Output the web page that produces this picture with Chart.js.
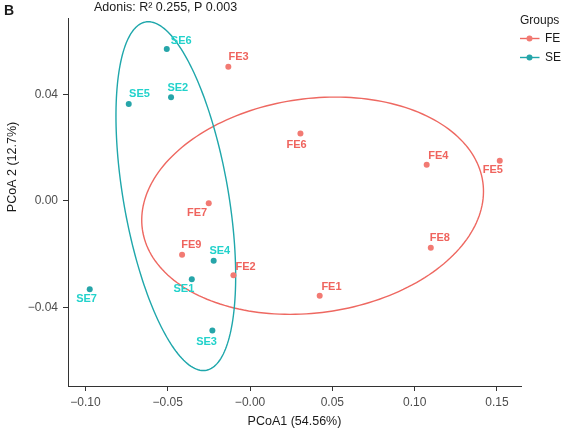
<!DOCTYPE html>
<html>
<head>
<meta charset="utf-8">
<script src="https://cdn.jsdelivr.net/npm/chart.js@4.4.1/dist/chart.umd.min.js"></script>
<style>
  html, body { margin: 0; padding: 0; background: #ffffff; }
  #wrap { width: 566px; height: 431px; }
</style>
</head>
<body>
<div id="wrap"><canvas id="c" width="566" height="431"></canvas></div>
<script>
// ---------- data ----------
const feNames = ["FE1", "FE2", "FE3", "FE4", "FE5", "FE6", "FE7", "FE8", "FE9"];
const feX = [0.0423, -0.0101, -0.0132, 0.1073, 0.1517, 0.0306, -0.0251, 0.1098, -0.0413];
const feY = [-0.0356, -0.0279, 0.0504, 0.0136, 0.0151, 0.0253, -0.0009, -0.0176, -0.0202];

const seNames = ["SE1", "SE2", "SE3", "SE4", "SE5", "SE6", "SE7"];
const seX = [-0.0354, -0.0480, -0.0229, -0.0221, -0.0737, -0.0506, -0.0974];
const seY = [-0.0294, 0.0389, -0.0487, -0.0225, 0.0364, 0.0571, -0.0332];

// confidence ellipses: centre and two conjugate semi-axis vectors (data units)
const feEllipseCenter = [0.0380, -0.0018];
const feEllipseAxisA = [-0.0137, -0.0408];
const feEllipseAxisB = [0.1029, 0.0];
const seEllipseCenter = [-0.0451, 0.0018];
const seEllipseAxisA = [-0.0167, 0.0655];
const seEllipseAxisB = [0.0323, 0.0];

const xTicks = [-0.10, -0.05, 0.00, 0.05, 0.10, 0.15];
const xTickLabels = ["\u22120.10", "\u22120.05", "\u22120.00", "0.05", "0.10", "0.15"];
const yTicks = [-0.04, 0.00, 0.04];
const yTickLabels = ["\u22120.04", "0.00", "0.04"];

const titleText = "Adonis: R\u00B2 0.255, P 0.003";
const panelTag = "B";
const xTitle = "PCoA1 (54.56%)";
const yTitle = "PCoA 2 (12.7%)";
const legendTitle = "Groups";
const groupNames = ["FE", "SE"];

// label offsets in pixels (label centre relative to point)
const feLabelOffsets = [[11.8, -8.7], [12.2, -8], [10.2, -10], [11.6, -8.4], [-7, 9.3], [-3.8, 11], [-11.7, 10], [9.1, -10], [9.2, -9.4]];
const seLabelOffsets = [[-7.9, 10], [6.8, -9.6], [-5.8, 11], [6.1, -10], [10.7, -10], [14.5, -8.3], [-3.2, 9.7]];

// ---------- styles ----------
const FE_POINT = "#F27A73", SE_POINT = "#26A5A9";
const FE_TEXT = "#EF645E", SE_TEXT = "#22D2CB";
const FE_LINE = "#EE6861", SE_LINE = "#1FA7AB";
const FONT = "'Liberation Sans', Arial, sans-serif";

function pts(xs, ys) { return xs.map((x, i) => ({ x: x, y: ys[i] })); }

const overlay = {
  id: "overlay",
  beforeDatasetsDraw(chart) {
    const ctx = chart.ctx, xs = chart.scales.x, ys = chart.scales.y;
    function ellipse(c, a, b, color) {
      ctx.save();
      ctx.strokeStyle = color;
      ctx.lineWidth = 1.4;
      ctx.beginPath();
      const n = 200;
      for (let i = 0; i <= n; i++) {
        const t = (i / n) * Math.PI * 2;
        const vx = c[0] + a[0] * Math.cos(t) + b[0] * Math.sin(t);
        const vy = c[1] + a[1] * Math.cos(t) + b[1] * Math.sin(t);
        const px = xs.getPixelForValue(vx), py = ys.getPixelForValue(vy);
        if (i === 0) ctx.moveTo(px, py); else ctx.lineTo(px, py);
      }
      ctx.closePath();
      ctx.stroke();
      ctx.restore();
    }
    ellipse(feEllipseCenter, feEllipseAxisA, feEllipseAxisB, FE_LINE);
    ellipse(seEllipseCenter, seEllipseAxisA, seEllipseAxisB, SE_LINE);
  },
  afterDatasetsDraw(chart) {
    const ctx = chart.ctx, xs = chart.scales.x, ys = chart.scales.y, ca = chart.chartArea;
    ctx.save();
    // point labels
    ctx.font = "bold 11px " + FONT;
    ctx.textAlign = "center";
    ctx.textBaseline = "middle";
    function labels(names, X, Y, offs, color) {
      ctx.fillStyle = color;
      names.forEach((n, i) => {
        const px = xs.getPixelForValue(X[i]), py = ys.getPixelForValue(Y[i]);
        ctx.fillText(n, px + offs[i][0], py + offs[i][1]);
      });
    }
    labels(feNames, feX, feY, feLabelOffsets, FE_TEXT);
    labels(seNames, seX, seY, seLabelOffsets, SE_TEXT);

    // title + tag
    ctx.fillStyle = "#1a1a1a";
    ctx.font = "12.5px " + FONT;
    ctx.textAlign = "left";
    ctx.fillText(titleText, 94, 8);
    ctx.font = "bold 14px " + FONT;
    ctx.fillText(panelTag, 4, 11);

    // axis titles
    ctx.fillStyle = "#1a1a1a";
    ctx.font = "12.5px " + FONT;
    ctx.textAlign = "center";
    ctx.fillText(xTitle, (ca.left + ca.right) / 2, 421.5);
    ctx.save();
    ctx.translate(13, 167);
    ctx.rotate(-Math.PI / 2);
    ctx.fillText(yTitle, 0, 0);
    ctx.restore();

    // legend
    ctx.textAlign = "left";
    ctx.font = "12px " + FONT;
    ctx.fillStyle = "#1a1a1a";
    ctx.fillText(legendTitle, 520, 21);
    const legY = [38.5, 57.5];
    const legCols = [[FE_LINE, FE_POINT], [SE_LINE, SE_POINT]];
    groupNames.forEach((g, i) => {
      ctx.strokeStyle = legCols[i][0];
      ctx.lineWidth = 1.4;
      ctx.beginPath();
      ctx.moveTo(520, legY[i]);
      ctx.lineTo(539.5, legY[i]);
      ctx.stroke();
      ctx.fillStyle = legCols[i][1];
      ctx.beginPath();
      ctx.arc(529.5, legY[i], 3, 0, Math.PI * 2);
      ctx.fill();
      ctx.fillStyle = "#1a1a1a";
      ctx.fillText(g, 545, legY[i]);
    });
    ctx.restore();
  }
};

const tickFont = { family: FONT, size: 12 };

new Chart(document.getElementById("c"), {
  type: "scatter",
  data: {
    datasets: [
      { label: groupNames[0], data: pts(feX, feY), pointRadius: 3, pointHoverRadius: 3,
        pointBackgroundColor: FE_POINT, pointBorderWidth: 0, borderColor: FE_POINT },
      { label: groupNames[1], data: pts(seX, seY), pointRadius: 3, pointHoverRadius: 3,
        pointBackgroundColor: SE_POINT, pointBorderWidth: 0, borderColor: SE_POINT }
    ]
  },
  options: {
    responsive: false,
    devicePixelRatio: 1,
    animation: false,
    layout: { padding: { top: 18, right: 45, left: 0, bottom: 0 } },
    plugins: { legend: { display: false }, tooltip: { enabled: false } },
    scales: {
      x: {
        type: "linear", min: -0.1106, max: 0.1646,
        afterBuildTicks: s => { s.ticks = xTicks.map(v => ({ value: v })); },
        afterFit: s => { s.height = 45; },
        grid: { drawOnChartArea: false, drawTicks: true, tickLength: 5, color: "#333", lineWidth: 1 },
        border: { display: true, color: "#333", width: 1 },
        ticks: { font: tickFont, color: "#4d4d4d", padding: 4, maxRotation: 0, autoSkip: false,
                 callback: (v, i) => xTickLabels[i] }
      },
      y: {
        type: "linear", min: -0.0695, max: 0.0687,
        afterBuildTicks: s => { s.ticks = yTicks.map(v => ({ value: v })); },
        afterFit: s => { s.width = 68; },
        grid: { drawOnChartArea: false, drawTicks: true, tickLength: 5, color: "#333", lineWidth: 1 },
        border: { display: true, color: "#333", width: 1 },
        ticks: { font: tickFont, color: "#4d4d4d", padding: 5, autoSkip: false,
                 callback: (v, i) => yTickLabels[i] }
      }
    }
  },
  plugins: [overlay]
});
</script>
</body>
</html>
